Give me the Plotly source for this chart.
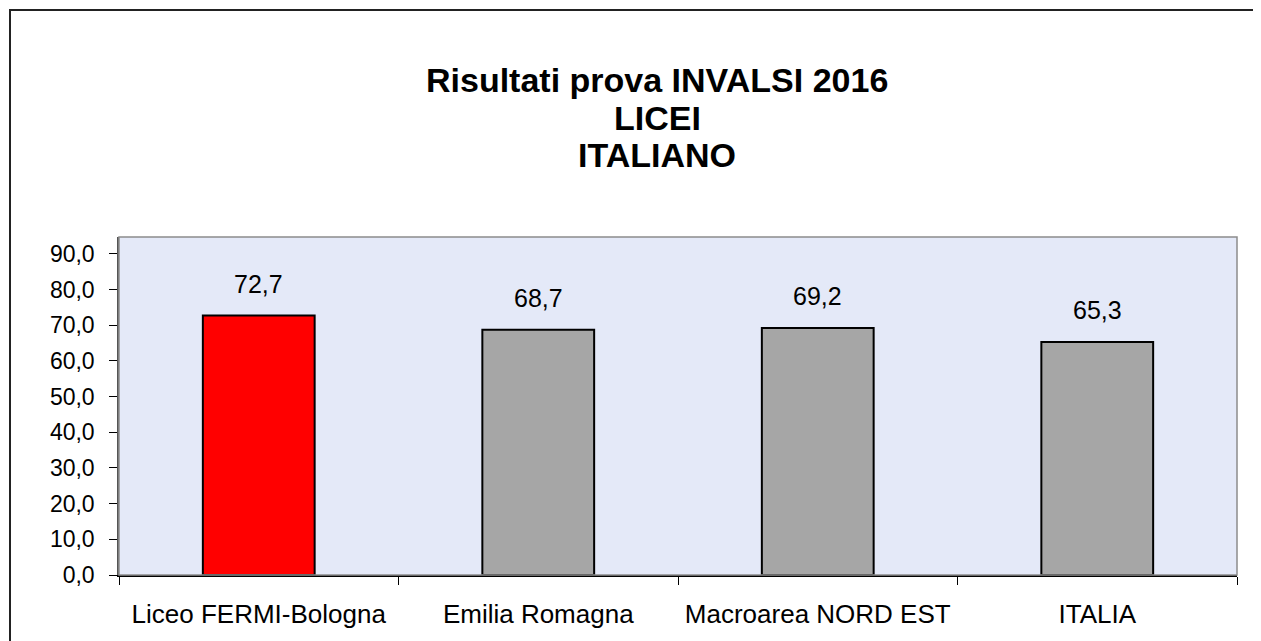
import plotly.graph_objects as go

# values
categories = ["Liceo FERMI-Bologna", "Emilia Romagna", "Macroarea NORD EST", "ITALIA"]
scores = [72.7, 68.7, 69.2, 65.3]
bar_colors = ["#FF0000", "#A6A6A6", "#A6A6A6", "#A6A6A6"]
y_ticks = [0, 10, 20, 30, 40, 50, 60, 70, 80, 90]
title_lines = ["Risultati prova INVALSI 2016", "LICEI", "ITALIANO"]

W, H = 1261, 641
OFF = 8  # the page body adds an 8px margin
L, T = 119 - OFF, 237 - OFF
pw, ph = 1118, 338
R, B = W - L - pw, H - T - ph


def px_x(x):
    return (x - OFF - L) / pw


def px_y(y):
    return (T + ph - (y - OFF)) / ph


fig = go.Figure(go.Bar(
    x=categories, y=scores, width=0.4,
    marker=dict(color=bar_colors, line=dict(color="black", width=2)),
    hoverinfo="x+y",
))

# value labels above the bars
for c, v in zip(categories, scores):
    fig.add_annotation(x=c, y=v, xref="x", yref="y", text=f"{v:.1f}".replace(".", ","),
                       showarrow=False, yanchor="middle", yshift=32,
                       font=dict(size=25, color="black"))

for line, ty in zip(title_lines, [80, 118, 155]):
    fig.add_annotation(x=px_x(657), y=px_y(ty), xref="paper", yref="paper",
                       text=f"<b>{line}</b>", showarrow=False,
                       xanchor="center", yanchor="middle",
                       font=dict(size=34, color="black"))

# plot area frame (grey) and the outer chart border
fig.add_shape(type="rect", xref="paper", yref="paper", x0=0, x1=1, y0=0, y1=1,
              line=dict(color="#8C8C8C", width=1.5), layer="above")
fig.add_shape(type="rect", xref="paper", yref="paper",
              x0=px_x(10), x1=px_x(1300), y0=px_y(700), y1=px_y(10),
              line=dict(color="#222222", width=2))

fig.update_layout(
    width=W, height=H,
    margin=dict(l=L, r=R, t=T, b=B),
    paper_bgcolor="white", plot_bgcolor="#E4E9F8",
    separators=",.",
    font=dict(family="Liberation Sans, Arial, sans-serif", color="black"),
    showlegend=False,
    bargap=0.6,
)
fig.update_xaxes(
    type="category", tickson="boundaries", ticks="outside", ticklen=8, tickcolor="black",
    showline=True, linecolor="black", linewidth=1.5, showgrid=False,
    tickfont=dict(size=26), ticklabelstandoff=15,
)
fig.update_yaxes(
    range=[0, 94.7], tickvals=y_ticks, tickformat=".1f", ticks="outside", ticklen=8,
    tickcolor="black", showline=True, linecolor="#555555", linewidth=1.5,
    showgrid=False, zeroline=False, tickfont=dict(size=23), ticklabelstandoff=10,
)

fig.write_html("out.html")
